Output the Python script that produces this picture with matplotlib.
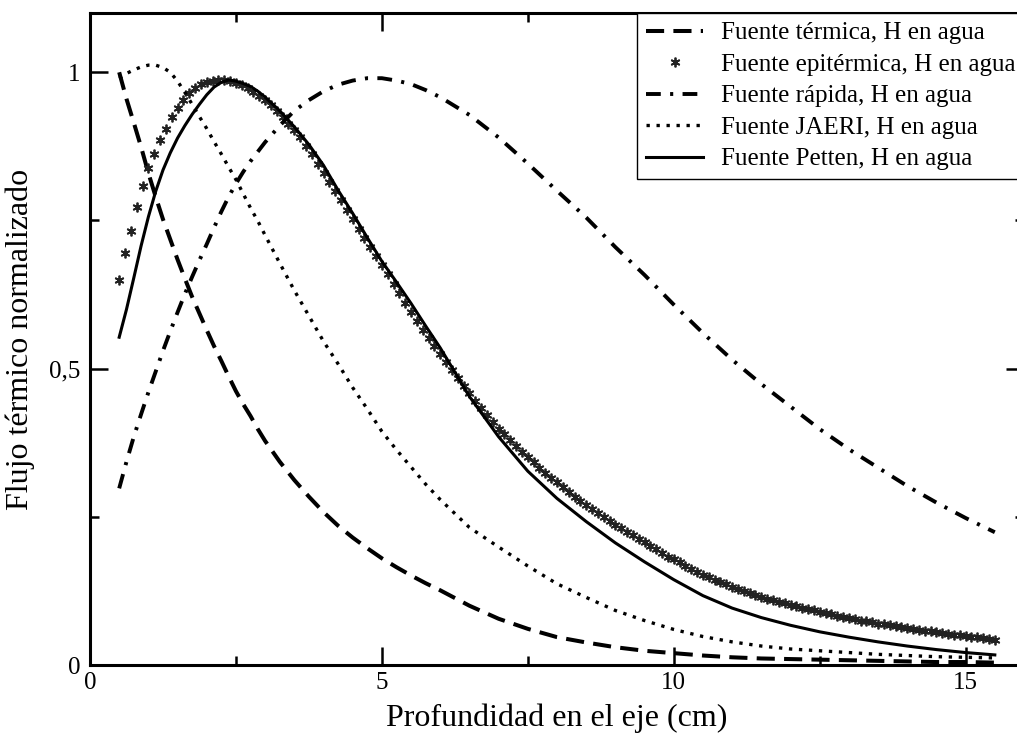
import matplotlib
matplotlib.use("Agg")
import matplotlib.pyplot as plt
import numpy as np
from matplotlib.ticker import FixedLocator

plt.rcParams['font.family'] = ['Liberation Serif', 'DejaVu Serif']

# depth grid (cm) shared by the line curves: fine near the source, coarser deeper
depth = [0.5, 0.625, 0.75, 0.875, 1.0, 1.125, 1.25, 1.375, 1.5, 1.625, 1.75, 1.875,
         2.0, 2.125, 2.25, 2.375, 2.5, 2.625, 2.75, 2.875, 3.0,
         3.25, 3.5, 3.75, 4.0, 4.25, 4.5, 4.75, 5.0, 5.25, 5.5, 5.75, 6.0,
         6.5, 7.0, 7.5, 8.0, 8.5, 9.0, 9.5, 10.0, 10.5, 11.0, 11.5, 12.0,
         12.5, 13.0, 13.5, 14.0, 14.5, 15.0, 15.5]

flux_termica = [1.0, 0.955, 0.915, 0.874, 0.83, 0.79, 0.752, 0.718, 0.684, 0.652, 0.621, 0.593,
                0.565, 0.538, 0.513, 0.487, 0.462, 0.44, 0.42, 0.398, 0.378,
                0.343, 0.312, 0.284, 0.258, 0.235, 0.215, 0.197, 0.18, 0.165, 0.151, 0.138, 0.126,
                0.100, 0.078, 0.061, 0.047, 0.038, 0.030, 0.024, 0.020, 0.016, 0.013, 0.011, 0.010,
                0.009, 0.008, 0.007, 0.006, 0.005, 0.005, 0.004]

flux_rapida = [0.298, 0.343, 0.385, 0.423, 0.46, 0.495, 0.53, 0.563, 0.595, 0.626, 0.655, 0.683,
               0.71, 0.738, 0.765, 0.79, 0.812, 0.832, 0.85, 0.866, 0.882,
               0.91, 0.935, 0.953, 0.968, 0.979, 0.986, 0.99, 0.99, 0.986, 0.98, 0.97, 0.958,
               0.928, 0.89, 0.846, 0.80, 0.755, 0.705, 0.658, 0.608, 0.56, 0.515, 0.474, 0.436,
               0.398, 0.364, 0.333, 0.302, 0.274, 0.248, 0.224]

flux_jaeri = [0.99, 0.998, 1.004, 1.009, 1.012, 1.012, 1.008, 1.0, 0.985, 0.966, 0.946, 0.925,
              0.905, 0.883, 0.862, 0.84, 0.819, 0.795, 0.771, 0.749, 0.725,
              0.678, 0.632, 0.589, 0.546, 0.508, 0.468, 0.432, 0.394, 0.363, 0.334, 0.305, 0.279,
              0.232, 0.199, 0.167, 0.137, 0.114, 0.092, 0.075, 0.060, 0.048, 0.039, 0.032, 0.027,
              0.024, 0.021, 0.018, 0.016, 0.014, 0.013, 0.012]

flux_petten = [0.553, 0.600, 0.653, 0.707, 0.756, 0.799, 0.835, 0.864, 0.889, 0.91, 0.929, 0.946,
               0.962, 0.975, 0.983, 0.987, 0.985, 0.981, 0.976, 0.968, 0.958,
               0.935, 0.908, 0.878, 0.843, 0.801, 0.762, 0.721, 0.681, 0.646, 0.61, 0.572, 0.535,
               0.453, 0.385, 0.327, 0.281, 0.242, 0.206, 0.174, 0.144, 0.117, 0.096, 0.080, 0.067,
               0.056, 0.047, 0.039, 0.032, 0.026, 0.021, 0.017]

# epithermal source, sampled every 0.1 cm from 0.5 to 15.5
flux_epitermica = [
    0.649, 0.695, 0.732, 0.772, 0.808, 0.838, 0.862, 0.885, 0.905, 0.925,
    0.940, 0.953, 0.965, 0.974, 0.980, 0.984, 0.986, 0.987, 0.987, 0.985,
    0.982, 0.978, 0.973, 0.967, 0.960, 0.953, 0.944, 0.934, 0.924, 0.913,
    0.902, 0.890, 0.876, 0.862, 0.846, 0.830, 0.815, 0.800, 0.784, 0.768,
    0.752, 0.736, 0.720, 0.705, 0.690, 0.675, 0.659, 0.643, 0.627, 0.611,
    0.596, 0.581, 0.566, 0.552, 0.538, 0.524, 0.511, 0.497, 0.484, 0.471,
    0.459, 0.446, 0.434, 0.422, 0.410, 0.399, 0.389, 0.379, 0.369, 0.360,
    0.351, 0.342, 0.333, 0.324, 0.316, 0.308, 0.300, 0.292, 0.284, 0.277,
    0.270, 0.263, 0.256, 0.250, 0.243, 0.237, 0.231, 0.225, 0.219, 0.213,
    0.207, 0.201, 0.195, 0.189, 0.183, 0.178, 0.173, 0.167, 0.162, 0.157,
    0.152, 0.148, 0.144, 0.140, 0.136, 0.132, 0.129, 0.125, 0.122, 0.118,
    0.115, 0.112, 0.109, 0.107, 0.104, 0.102, 0.099, 0.097, 0.095, 0.092,
    0.090, 0.088, 0.086, 0.083, 0.081, 0.079, 0.077, 0.075, 0.074, 0.072,
    0.070, 0.069, 0.067, 0.065, 0.064, 0.062, 0.061, 0.059, 0.058, 0.057,
    0.055, 0.054, 0.053, 0.051, 0.050, 0.049, 0.048, 0.047, 0.045, 0.044,
    0.043]
depth_epi = np.linspace(0.5, 15.5, len(flux_epitermica))

labels = ['Fuente térmica, H en agua', 'Fuente epitérmica, H en agua',
          'Fuente rápida, H en agua', 'Fuente JAERI, H en agua',
          'Fuente Petten, H en agua']

x_ticks = [0, 5, 10, 15]
x_ticklabels = ['0', '5', '10', '15']
y_ticks = [0, 0.5, 1]
y_ticklabels = ['0', '0,5', '1']

fig = plt.figure(figsize=(10.17, 7.34), dpi=100)
ax = fig.add_axes([90 / 1017, 69 / 734, 934 / 1017, 652 / 734])

ax.plot(depth, flux_termica, color='black', lw=2.9, dashes=(4.5, 2.3),
        dash_capstyle='butt', label=labels[0])
ax.plot(depth_epi, flux_epitermica, linestyle='none', marker=(6, 2, 0),
        markersize=7, markeredgewidth=1.3, color='#222222', label=labels[1])
ax.plot(depth, flux_rapida, color='black', lw=2.8, dashes=(3.8, 2.4, 0.8, 2.4),
        dash_capstyle='butt', label=labels[2])
ax.plot(depth, flux_jaeri, color='black', lw=2.4, dashes=(1, 2.0),
        dash_capstyle='butt', label=labels[3])
ax.plot(depth, flux_petten, color='black', lw=2.2, label=labels[4])

ax.set_xlim(0, 16)
ax.set_ylim(0, 1.1)

ax.xaxis.set_major_locator(FixedLocator(x_ticks))
ax.xaxis.set_minor_locator(FixedLocator([2.5, 7.5, 12.5]))
ax.yaxis.set_major_locator(FixedLocator(y_ticks))
ax.yaxis.set_minor_locator(FixedLocator([0.25, 0.75]))
ax.set_xticklabels(x_ticklabels)
ax.set_yticklabels(y_ticklabels)

ax.tick_params(which='both', direction='in', top=True, right=True,
               labelsize=18, width=1.8, color='black')
ax.tick_params(which='major', length=13)
ax.tick_params(which='minor', length=6.5)
ax.tick_params(axis='x', pad=5)
ax.tick_params(axis='y', pad=7)

for spine in ax.spines.values():
    spine.set_linewidth(2.2)

ax.set_xlabel('Profundidad en el eje (cm)', fontsize=23, labelpad=7)
ax.set_ylabel('Flujo térmico normalizado', fontsize=23, labelpad=10)

leg = ax.legend(loc='upper right', fontsize=18, fancybox=False, framealpha=1,
                edgecolor='black', borderaxespad=0, handlelength=2.3,
                handletextpad=0.7, labelspacing=0.36, borderpad=0.35)
leg.get_frame().set_linewidth(1.0)

fig.savefig('out.png', dpi=100)
